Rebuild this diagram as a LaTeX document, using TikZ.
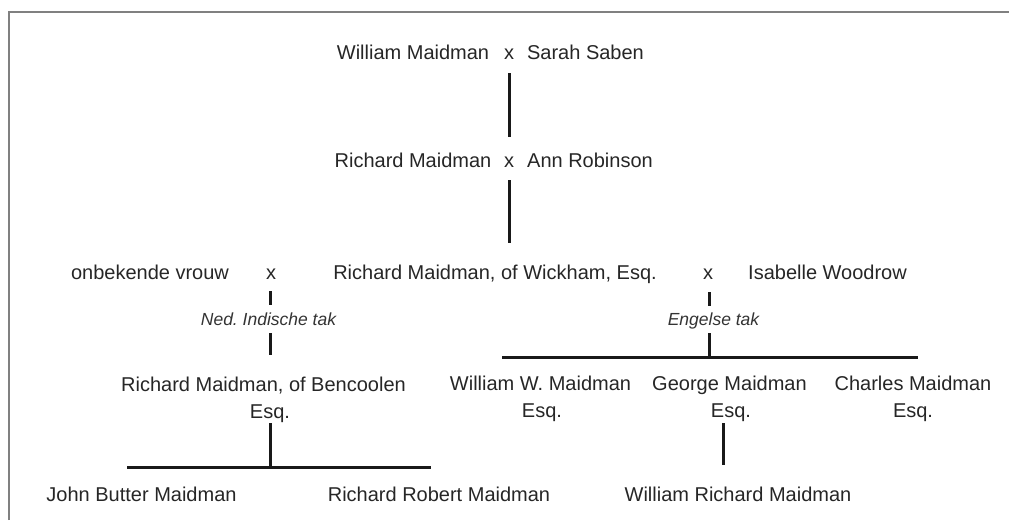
\documentclass[tikz,border=0pt]{standalone}
\usepackage{fontspec}
\setmainfont{Liberation Sans}
\usetikzlibrary{calc}
\frenchspacing
\begin{document}
\begin{tikzpicture}[x=1pt,y=-1pt,
  person/.style={inner sep=0pt, anchor=base, font=\fontsize{20}{27}\selectfont, text=black!85, align=center},
  branch/.style={inner sep=0pt, anchor=base, font=\fontsize{17.5}{20}\selectfont\itshape, text=black!80},
  link/.style={line width=3pt, draw=black!90},
  frame/.style={line width=1.8pt, draw=black!50}]
\useasboundingbox (0,0) rectangle (1009,520);
\draw[frame] (9,520) -- (9,12) -- (1009,12);
\node[person] (wm) at (413,59) {William Maidman};
\node[person] (x1) at (509,59) {x};
\node[person] (ss) at (585.5,59) {Sarah Saben};
\node[person] (rm) at (413,167) {Richard Maidman};
\node[person] (x2) at (509,167) {x};
\node[person] (ar) at (590,167) {Ann Robinson};
\node[person] (ov) at (150,279) {onbekende vrouw};
\node[person] (x3) at (271,279) {x};
\node[person] (rw) at (495,279) {Richard Maidman, of Wickham, Esq.};
\node[person] (x4) at (708,279) {x};
\node[person] (iw) at (827.5,279) {Isabelle Woodrow};
\node[branch] (nit) at (268.5,325) {Ned. Indische tak};
\node[branch] (et) at (713.5,325) {Engelse tak};
\node[person] (rb) at (270,418) {Richard Maidman, of Bencoolen\hspace*{13pt}\\Esq.};
\node[person] (ww) at (542,417) {William W. Maidman\hspace*{3pt}\\Esq.};
\node[person] (gm) at (731,417) {George Maidman\hspace*{3pt}\\Esq.};
\node[person] (cm) at (913,417) {Charles Maidman\\Esq.};
\node[person] (jb) at (141.5,501) {John Butter Maidman};
\node[person] (rr) at (439,501) {Richard Robert Maidman};
\node[person] (wr) at (738,501) {William Richard Maidman};
% connectors
\draw[link] ($(x1.base)+(0,14)$) -- ($(x2.base)+(0,-30)$);
\draw[link] ($(x2.base)+(0,13)$) -- ($(x2.base |- rw.base)+(0,-36)$);
\draw[link] ($(x3.base)+(-1,12)$) -- ($(nit.base)+(1.5,-20)$);
\draw[link] ($(nit.base)+(1.5,8)$) -- ($(nit.base |- rb.base)+(1.5,-63)$);
\draw[link] ($(rb.base)+(0,5)$) -- ($(rb.base)+(0,49)$);
\draw[link] ($(jb.base)+(-14.5,-34)$) -- ($(rr.base)+(-8,-34)$);
\draw[link] ($(x4.base)+(1,13)$) -- ($(x4.base)+(1,27)$);
\draw[link] ($(et.base)+(-4.5,8)$) -- ($(et.base)+(-4.5,32)$);
\draw[link] ($(ww.base)+(-40,-60)$) -- ($(cm.base)+(5,-60)$);
\draw[link] ($(gm.base)+(-8,6)$) -- ($(wr.base)+(-15,-36)$);
\end{tikzpicture}
\end{document}
